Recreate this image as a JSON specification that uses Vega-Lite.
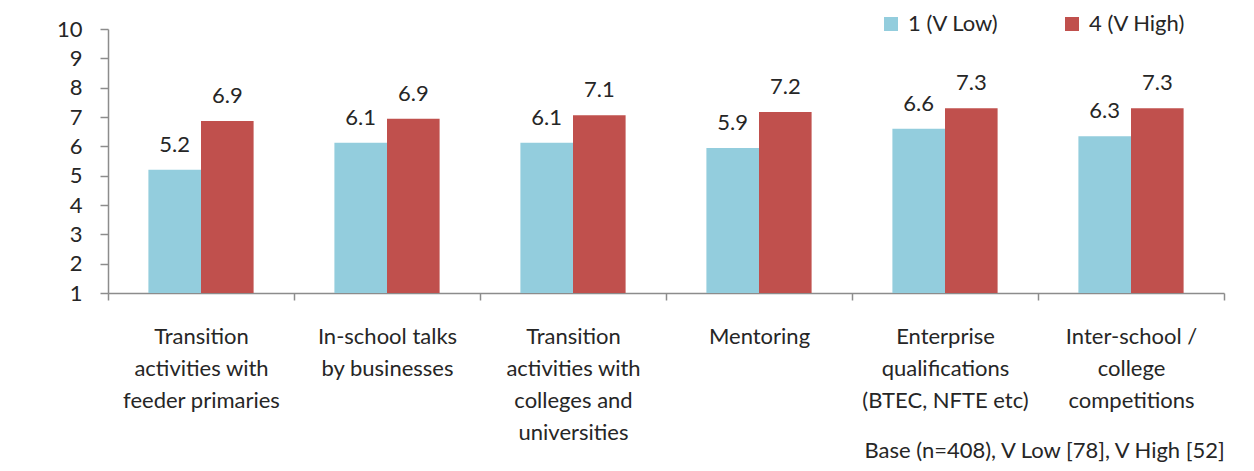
{
  "$schema": "https://vega.github.io/schema/vega-lite/v6.json",
  "autosize": {"type": "none"},
  "width": 1116,
  "height": 264,
  "padding": {"left": 108, "top": 29, "right": 30, "bottom": 178},
  "background": "white",
  "config": {
    "font": "Lato",
    "view": {"stroke": null},
    "axis": {"labelFont": "Lato", "labelColor": "#262626", "domainColor": "#8c8c8c", "tickColor": "#8c8c8c", "grid": false},
    "legend": {"labelFont": "Lato"}
  },
  "title": {
    "text": "Base (n=408), V Low [78], V High [52]",
    "orient": "bottom",
    "anchor": "end",
    "fontSize": 22,
    "fontWeight": "normal",
    "color": "#262626",
    "font": "Lato",
    "offset": -2,
    "baseline": "top"
  },
  "data": {
    "values": [
      {"activity": "Transition\nactivities with\nfeeder primaries", "series": "1 (V Low)", "score": 5.2},
      {"activity": "Transition\nactivities with\nfeeder primaries", "series": "4 (V High)", "score": 6.86},
      {"activity": "In-school talks\nby businesses", "series": "1 (V Low)", "score": 6.12},
      {"activity": "In-school talks\nby businesses", "series": "4 (V High)", "score": 6.94},
      {"activity": "Transition\nactivities with\ncolleges and\nuniversities", "series": "1 (V Low)", "score": 6.12},
      {"activity": "Transition\nactivities with\ncolleges and\nuniversities", "series": "4 (V High)", "score": 7.06},
      {"activity": "Mentoring", "series": "1 (V Low)", "score": 5.94},
      {"activity": "Mentoring", "series": "4 (V High)", "score": 7.17},
      {"activity": "Enterprise\nqualifications\n(BTEC, NFTE etc)", "series": "1 (V Low)", "score": 6.6},
      {"activity": "Enterprise\nqualifications\n(BTEC, NFTE etc)", "series": "4 (V High)", "score": 7.3},
      {"activity": "Inter-school /\ncollege\ncompetitions", "series": "1 (V Low)", "score": 6.34},
      {"activity": "Inter-school /\ncollege\ncompetitions", "series": "4 (V High)", "score": 7.3}
    ]
  },
  "encoding": {
    "x": {
      "field": "activity",
      "type": "nominal",
      "sort": null,
      "scale": {"paddingInner": 0, "paddingOuter": 0},
      "axis": {
        "title": null,
        "labelAngle": 0,
        "labelExpr": "split(datum.label, '\\n')",
        "labelFontSize": 22,
        "labelLineHeight": 32,
        "labelPadding": 26,
        "labelBaseline": "top",
        "tickBand": "extent",
        "tickSize": 7,
        "domainWidth": 1.5,
        "tickWidth": 1.5,
        "labelLimit": 0
      }
    },
    "xOffset": {"field": "series", "type": "nominal", "scale": {"paddingInner": 0, "paddingOuter": 0.768}},
    "y": {
      "field": "score",
      "type": "quantitative",
      "scale": {"domain": [1, 10], "nice": false, "zero": false},
      "axis": {
        "title": null,
        "values": [1, 2, 3, 4, 5, 6, 7, 8, 9, 10],
        "labelOverlap": false,
        "labelFontSize": 22,
        "labelPadding": 18,
        "tickSize": 8,
        "domainWidth": 1.5,
        "tickWidth": 1.5
      }
    }
  },
  "layer": [
    {
      "mark": {"type": "bar", "clip": true},
      "encoding": {
        "color": {
          "field": "series",
          "type": "nominal",
          "scale": {"domain": ["1 (V Low)", "4 (V High)"], "range": ["#93CDDD", "#C0504D"]},
          "legend": {
            "title": null,
            "orient": "none",
            "direction": "horizontal",
            "legendX": 772,
            "legendY": -16,
            "symbolType": "square",
            "symbolSize": 196,
            "symbolStrokeWidth": 0,
            "labelFontSize": 22,
            "labelColor": "#262626",
            "labelOffset": 6,
            "columnPadding": 62
          }
        }
      }
    },
    {
      "mark": {"type": "text", "dy": -18, "baseline": "alphabetic", "fontSize": 22, "color": "#262626", "font": "Lato"},
      "encoding": {
        "text": {"field": "score", "type": "quantitative", "format": ".1f"}
      }
    }
  ]
}
